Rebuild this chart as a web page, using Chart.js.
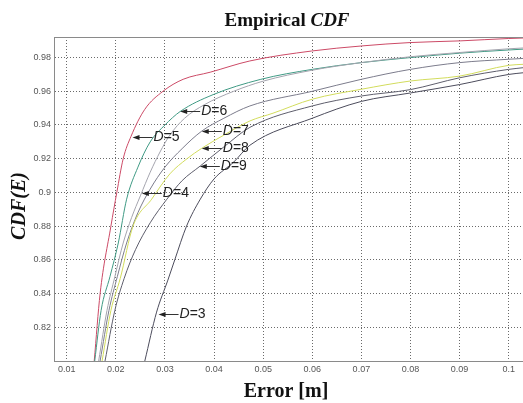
<!DOCTYPE html>
<html>
<head>
<meta charset="utf-8">
<title>Empirical CDF</title>
<script src="https://cdn.jsdelivr.net/npm/chart.js@4"></script>
<style>
  html, body { margin: 0; padding: 0; background: #fff; }
  #wrap { width: 523px; height: 403px; }
</style>
</head>
<body>
<div id="wrap"><canvas id="cdf" width="523" height="403"></canvas></div>
<script>
// Error values [m] and CDF values for each dimension D
const errD3 = [0.0259, 0.0283, 0.0306, 0.0320, 0.0344, 0.0372, 0.0400, 0.0440, 0.0473, 0.0600, 0.0700, 0.0800, 0.0900, 0.1000, 0.1030];
const cdfD3 = [0.800, 0.829, 0.848, 0.860, 0.880, 0.896, 0.908, 0.918, 0.928, 0.944, 0.954, 0.959, 0.964, 0.970, 0.971];

const errD4 = [0.0165, 0.0182, 0.0198, 0.0215, 0.0232, 0.0250, 0.0270, 0.0290, 0.0310, 0.0340, 0.0380, 0.0440, 0.0500, 0.0600, 0.0700, 0.0800, 0.0900, 0.1000, 0.1030];
const cdfD4 = [0.800, 0.830, 0.850, 0.870, 0.885, 0.898, 0.912, 0.924, 0.934, 0.944, 0.952, 0.960, 0.966, 0.9725, 0.977, 0.9805, 0.983, 0.9852, 0.9857];

const errD5 = [0.0156, 0.0168, 0.0190, 0.0202, 0.0215, 0.0231, 0.0259, 0.0296, 0.0337, 0.0392, 0.0473, 0.0599, 0.0701, 0.0799, 0.0901, 0.0999, 0.1030];
const cdfD5 = [0.800, 0.840, 0.880, 0.900, 0.920, 0.9333, 0.9493, 0.960, 0.9671, 0.9713, 0.978, 0.9839, 0.9869, 0.9889, 0.9899, 0.9913, 0.9916];

const errD6 = [0.0157, 0.0170, 0.0188, 0.0205, 0.0222, 0.0245, 0.0270, 0.0300, 0.0331, 0.0398, 0.0494, 0.0600, 0.0700, 0.0800, 0.0900, 0.1000, 0.1030];
const cdfD6 = [0.800, 0.830, 0.850, 0.870, 0.896, 0.915, 0.930, 0.940, 0.948, 0.958, 0.967, 0.973, 0.977, 0.980, 0.9826, 0.9845, 0.985];

const errD7 = [0.0168, 0.0186, 0.0203, 0.0222, 0.0245, 0.0270, 0.0300, 0.0335, 0.0375, 0.0420, 0.0473, 0.0600, 0.0700, 0.0800, 0.0900, 0.1000, 0.1030];
const cdfD7 = [0.800, 0.830, 0.850, 0.870, 0.888, 0.902, 0.915, 0.926, 0.9364, 0.944, 0.9513, 0.960, 0.9671, 0.973, 0.977, 0.979, 0.9795];

const errD8 = [0.0172, 0.0190, 0.0209, 0.0235, 0.0273, 0.0310, 0.0345, 0.0375, 0.0420, 0.0473, 0.0520, 0.0600, 0.0700, 0.0800, 0.0900, 0.1000, 0.1030];
const cdfD8 = [0.800, 0.830, 0.849, 0.880, 0.896, 0.911, 0.920, 0.9262, 0.934, 0.9424, 0.947, 0.9553, 0.9612, 0.9661, 0.969, 0.9754, 0.976];

const errD9 = [0.0178, 0.0198, 0.0217, 0.0240, 0.0270, 0.0304, 0.0335, 0.0372, 0.0420, 0.0473, 0.0600, 0.0700, 0.0800, 0.0900, 0.1000, 0.1030];
const cdfD9 = [0.800, 0.830, 0.849, 0.866, 0.882, 0.896, 0.907, 0.9157, 0.927, 0.9386, 0.9513, 0.9572, 0.961, 0.968, 0.973, 0.974];

// Tick values
const xTicks = [0.01, 0.02, 0.03, 0.04, 0.05, 0.06, 0.07, 0.08, 0.09, 0.1];
const yTicks = [0.82, 0.84, 0.86, 0.88, 0.9, 0.92, 0.94, 0.96, 0.98];

// Curve labels with the point each arrow points at
const noteNames = ['6', '5', '7', '8', '9', '4', '3'];
const noteErr = [0.0331, 0.0234, 0.0375, 0.0375, 0.0371, 0.0253, 0.0287];
const noteCdf = [0.9481, 0.9331, 0.9365, 0.9262, 0.9157, 0.8999, 0.8280];

function pts(xs, ys) {
  return xs.map((x, i) => ({ x: x, y: ys[i] }));
}

function line(label, xs, ys, color) {
  return {
    label: label,
    data: pts(xs, ys),
    borderColor: color,
    borderWidth: 1,
    pointRadius: 0,
    showLine: true,
    fill: false,
    cubicInterpolationMode: "monotone",
  };
}

const PLOT_LEFT = 54;
const PLOT_TOP = 37;
const PLOT_BOTTOM = 361;

// titles, box top edge and the D= arrows
const decorations = {
  id: "decorations",
  afterDraw(chart) {
    const c = chart.ctx;
    const area = chart.chartArea;
    const sx = chart.scales.x;
    const sy = chart.scales.y;

    c.save();
    // top edge of the axes box
    c.strokeStyle = "#8a8a8a";
    c.lineWidth = 1;
    c.beginPath();
    c.moveTo(area.left, area.top + 0.5);
    c.lineTo(area.right, area.top + 0.5);
    c.stroke();

    // main title: "Empirical " + italic "CDF"
    c.fillStyle = "#111";
    c.textBaseline = "alphabetic";
    const a = "Empirical ";
    c.font = "bold 19px 'Liberation Serif', serif";
    const wa = c.measureText(a).width;
    c.font = "italic bold 19px 'Liberation Serif', serif";
    const wb = c.measureText("CDF").width;
    const tx = 287 - (wa + wb) / 2;
    c.font = "bold 19px 'Liberation Serif', serif";
    c.textAlign = "left";
    c.fillText(a, tx, 26);
    c.font = "italic bold 19px 'Liberation Serif', serif";
    c.fillText("CDF", tx + wa, 26);

    // x axis title
    c.font = "bold 20px 'Liberation Serif', serif";
    c.textAlign = "center";
    c.fillText("Error [m]", 286, 397);

    // y axis title
    c.save();
    c.translate(25, 206);
    c.rotate(-Math.PI / 2);
    c.font = "italic bold 20px 'Liberation Serif', serif";
    c.textAlign = "center";
    c.fillText("CDF(E)", 0, 0);
    c.restore();

    // arrows with D=n labels
    c.strokeStyle = "#333";
    c.fillStyle = "#222";
    c.lineWidth = 1;
    noteNames.forEach((n, i) => {
      const px = sx.getPixelForValue(noteErr[i]);
      const py = Math.round(sy.getPixelForValue(noteCdf[i])) + 0.5;
      c.beginPath();
      c.moveTo(px + 2, py);
      c.lineTo(px + 20, py);
      c.stroke();
      c.beginPath();
      c.moveTo(px, py);
      c.lineTo(px + 7, py - 2.5);
      c.lineTo(px + 7, py + 2.5);
      c.closePath();
      c.fill();
      c.textAlign = "left";
      c.textBaseline = "middle";
      c.font = "italic 14px 'Liberation Sans', Arial, sans-serif";
      c.fillText("D", px + 21, py);
      const wd = c.measureText("D").width;
      c.font = "14px 'Liberation Sans', Arial, sans-serif";
      c.fillText("=" + n, px + 21 + wd, py);
    });
    c.restore();
  },
};

new Chart(document.getElementById("cdf"), {
  type: "scatter",
  data: {
    datasets: [
      line("D=3", errD3, cdfD3, "#4c4c5c"),
      line("D=9", errD9, cdfD9, "#5e5e6c"),
      line("D=8", errD8, cdfD8, "#d2dc5c"),
      line("D=7", errD7, cdfD7, "#7c7c8c"),
      line("D=4", errD4, cdfD4, "#a4a4ae"),
      line("D=6", errD6, cdfD6, "#3f9a84"),
      line("D=5", errD5, cdfD5, "#cc4a66"),
    ],
  },
  options: {
    responsive: false,
    animation: false,
    layout: { padding: { top: PLOT_TOP, left: 0, right: 0, bottom: 0 } },
    plugins: {
      legend: { display: false },
      tooltip: { enabled: false },
    },
    scales: {
      x: {
        type: "linear",
        min: 0.00741,
        max: 0.10291,
        afterBuildTicks(scale) {
          scale.ticks = xTicks.map((v) => ({ value: v }));
        },
        afterFit(scale) {
          scale.height = 403 - PLOT_BOTTOM;
        },
        ticks: {
          color: "#555",
          font: { family: "'Liberation Sans', Arial, sans-serif", size: 9 },
          padding: 3,
          maxRotation: 0,
          autoSkip: false,
          callback: (v) => String(+v.toFixed(2)),
        },
        grid: {
          color: "#6a6a6a",
          lineWidth: 1,
          drawTicks: false,
        },
        border: { color: "#8a8a8a", width: 1, dash: [1, 2] },
      },
      y: {
        type: "linear",
        min: 0.8,
        max: 0.9922,
        afterBuildTicks(scale) {
          scale.ticks = yTicks.map((v) => ({ value: v }));
        },
        afterFit(scale) {
          scale.width = PLOT_LEFT;
        },
        ticks: {
          color: "#555",
          font: { family: "'Liberation Sans', Arial, sans-serif", size: 9 },
          padding: 3,
          autoSkip: false,
          callback: (v) => String(+v.toFixed(2)),
        },
        grid: {
          color: "#6a6a6a",
          lineWidth: 1,
          drawTicks: false,
        },
        border: { color: "#8a8a8a", width: 1, dash: [1, 2] },
      },
    },
  },
  plugins: [decorations],
});
</script>
</body>
</html>
